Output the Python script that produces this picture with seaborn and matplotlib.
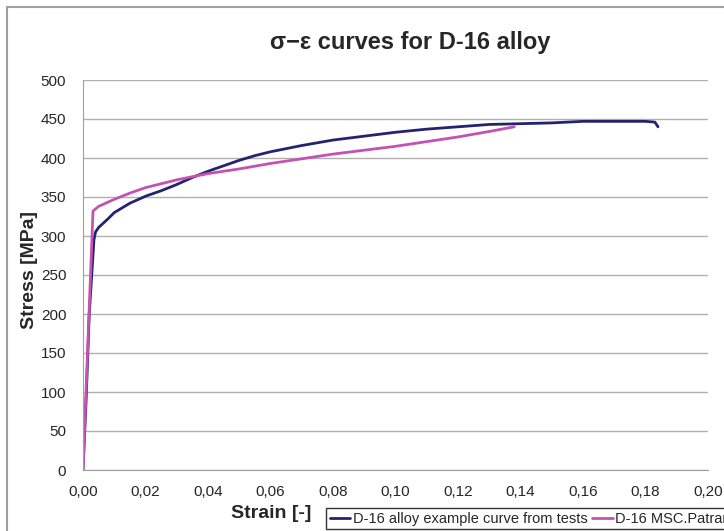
import matplotlib
matplotlib.use('Agg')
import matplotlib.pyplot as plt
import seaborn as sns
import pandas as pd
from matplotlib.patches import Rectangle

# Curva de ensayo (D-16)
strain_test = [0.0, 0.001, 0.002, 0.0028, 0.0035, 0.004, 0.005, 0.008, 0.010, 0.015, 0.020,
               0.025, 0.030, 0.035, 0.040, 0.045, 0.050, 0.055, 0.060, 0.070, 0.080,
               0.090, 0.100, 0.110, 0.120, 0.130, 0.140, 0.150, 0.160, 0.170, 0.180,
               0.183, 0.184]
stress_test = [0, 90, 200, 250, 295, 305, 311, 322, 330, 342, 351,
               358, 366, 375, 383, 390, 397, 403, 408, 416, 423,
               428, 433, 437, 440, 443, 444, 445, 447, 447, 447,
               446, 440]

# Curva MSC.Patran
strain_patran = [0.0, 0.0032, 0.005, 0.010, 0.015, 0.020, 0.025, 0.030, 0.035, 0.040,
                 0.050, 0.060, 0.070, 0.080, 0.090, 0.100, 0.110, 0.120, 0.130, 0.138]
stress_patran = [0, 332, 338, 347, 355, 362, 367, 372, 376, 380,
                 386, 393, 399, 405, 410, 415, 421, 427, 434, 440]

label_test = 'D-16 alloy example curve from tests'
label_patran = 'D-16 MSC.Patran'

df = pd.concat([
    pd.DataFrame({'strain': strain_test, 'stress': stress_test, 'serie': label_test}),
    pd.DataFrame({'strain': strain_patran, 'stress': stress_patran, 'serie': label_patran}),
])

sns.set_style('white')
plt.rcParams['font.family'] = ['Liberation Sans', 'DejaVu Sans']

fig = plt.figure(figsize=(7.24, 5.31), dpi=100)
ax = fig.add_axes([83 / 724, 1 - 470 / 531, 625 / 724, 390 / 531])

sns.lineplot(data=df, x='strain', y='stress', hue='serie', sort=False,
             palette={label_test: '#23236f', label_patran: '#c452b2'},
             linewidth=2, ax=ax, legend=False)

ax.set_xlim(0, 0.20)
ax.set_ylim(0, 500)
ax.set_xticks([i * 0.02 for i in range(11)])
ax.set_xticklabels([f'{i * 0.02:.2f}'.replace('.', ',') for i in range(11)])
ax.set_yticks(range(0, 501, 50))
ax.tick_params(axis='both', labelsize=11, length=4, color='#a0a0a0', direction='out')
ax.tick_params(axis='y', pad=8)
ax.tick_params(axis='x', pad=7)
ax.yaxis.grid(True, color='#b0b0b0', linewidth=1)
ax.xaxis.grid(False)
for s in ['top', 'right']:
    ax.spines[s].set_visible(False)
for s in ['left', 'bottom']:
    ax.spines[s].set_color('#a0a0a0')

ax.set_xlabel('Strain [-]', fontsize=14, fontweight='bold')
ax.xaxis.set_label_coords((271 - 83) / 625, (470 - 513) / 390)
ax.xaxis.label.set_va('center')
ax.set_ylabel('Stress [MPa]', fontsize=14, fontweight='bold')
ax.yaxis.set_label_coords((30 - 83) / 625, (470 - 270) / 390)
ax.yaxis.label.set_va('center')
fig.text(410 / 724, 1 - 42 / 531, 'σ−ε curves for D-16 alloy', ha='center', va='center',
         fontsize=17, fontweight='bold')

# Marco exterior del gráfico
fig.patches.append(Rectangle((7 / 724, -0.1), 1.2, 1 - 7 / 531 + 0.1, transform=fig.transFigure,
                             fill=False, edgecolor='#a0a0a0', linewidth=1.5))

handles = [plt.Line2D([], [], color='#23236f', lw=2), plt.Line2D([], [], color='#c452b2', lw=2)]
fig.legend(handles, [label_test, label_patran], loc='upper left',
           bbox_to_anchor=(326 / 724, 1 - 508 / 531), ncol=2, frameon=True,
           fontsize=10.5, handlelength=1.4, handletextpad=0.2, columnspacing=0.3,
           fancybox=False, edgecolor='black', borderpad=0.25, borderaxespad=0)

plt.savefig('out.png', dpi=100)
plt.close()
